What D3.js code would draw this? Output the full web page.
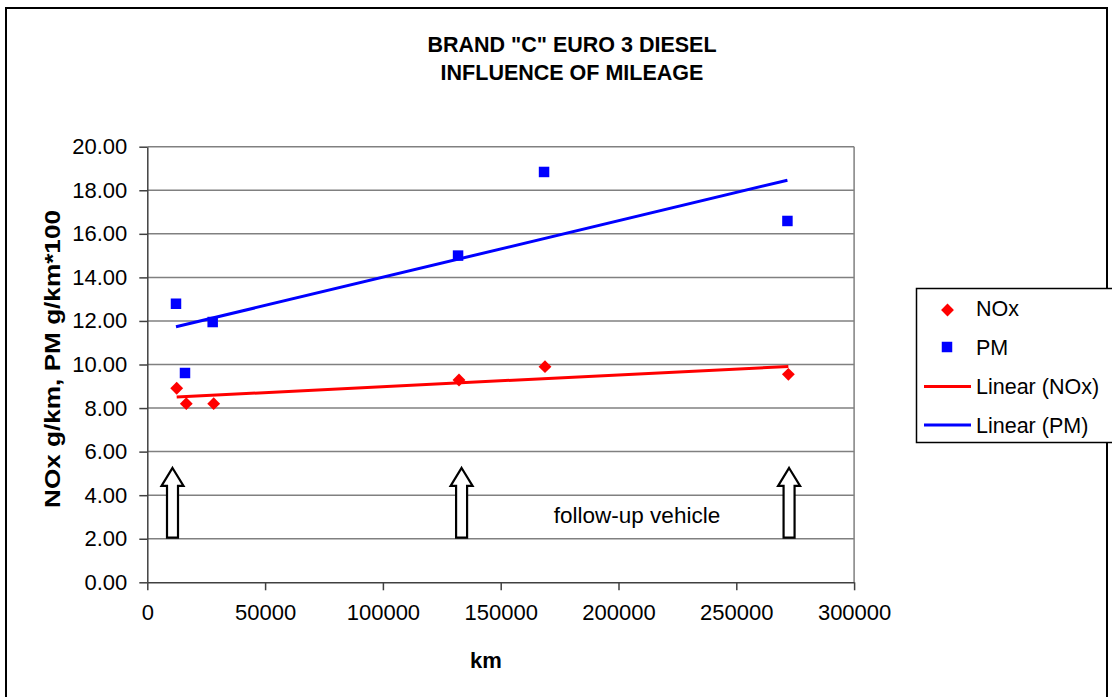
<!DOCTYPE html>
<html>
<head>
<meta charset="utf-8">
<script src="https://cdn.jsdelivr.net/npm/d3@7"></script>
<style>
  body { margin: 0; background: #fff; }
  svg { display: block; }
  text { font-family: "Liberation Sans", Arial, sans-serif; fill: #000; }
  .grid line { stroke: #808080; stroke-width: 1.5; }
  .axis path, .axis line { stroke: #404040; stroke-width: 1.5; }
  .axis text { font-size: 22px; }
</style>
</head>
<body>
<div id="chart"></div>
<script>
// values
const titleLines = ['BRAND "C" EURO 3 DIESEL', "INFLUENCE OF MILEAGE"]
const noxKm = [12480, 16550, 28180, 132300, 168800, 272100]
const noxVal = [8.91, 8.20, 8.20, 9.29, 9.90, 9.55]
const pmKm = [12180, 16000, 27750, 131900, 168400, 271700]
const pmVal = [12.79, 9.61, 11.95, 15.00, 18.84, 16.59]
const yTicks = [0, 2, 4, 6, 8, 10, 12, 14, 16, 18, 20]
const xTicks = [0, 50000, 100000, 150000, 200000, 250000, 300000]
const arrowKm = [10700, 133400, 272400]
const arrowFrom = 2.05, arrowTo = 5.25
const legendNames = ["NOx", "PM", "Linear (NOx)", "Linear (PM)"]

const W = 1112, H = 697
const svg = d3.select("#chart").append("svg").attr("width", W).attr("height", H)

// outer chart frame
svg.append("rect")
    .attr("x", 6).attr("y", 8)
    .attr("width", 1101).attr("height", H)
    .attr("fill", "none").attr("stroke", "#000").attr("stroke-width", 2)

const x = d3.scaleLinear().domain([0, 300000]).range([147.3, 854.1])
const y = d3.scaleLinear().domain([0, 20]).range([582.3, 146.7])

// title
svg.append("text")
    .attr("x", 572).attr("y", 52)
    .attr("text-anchor", "middle")
    .attr("font-weight", "bold").attr("font-size", 21.5)
    .selectAll("tspan").data(titleLines).enter().append("tspan")
    .attr("x", 572).attr("dy", (d, i) => i ? 27.5 : 0)
    .text(d => d)

// gridlines
svg.append("g").attr("class", "grid")
    .selectAll("line").data(yTicks.slice(1)).enter().append("line")
    .attr("x1", x(0)).attr("x2", x(300000))
    .attr("y1", d => y(d)).attr("y2", d => y(d))
svg.append("line")
    .attr("x1", x(300000)).attr("x2", x(300000))
    .attr("y1", y(0)).attr("y2", y(20))
    .attr("stroke", "#808080").attr("stroke-width", 1.5)

// axes
svg.append("g").attr("class", "axis")
    .attr("transform", `translate(${x(0)},0)`)
    .call(d3.axisLeft(y).tickValues(yTicks).tickSize(8).tickSizeOuter(0).tickPadding(12)
        .tickFormat(d3.format(".2f")))
svg.append("g").attr("class", "axis")
    .attr("transform", `translate(0,${y(0)})`)
    .call(d3.axisBottom(x).tickValues(xTicks).tickSize(8).tickSizeOuter(0).tickPadding(14)
        .tickFormat(d3.format("d")))

// axis titles
svg.append("text")
    .attr("transform", "translate(60,359) rotate(-90)")
    .attr("text-anchor", "middle")
    .attr("font-weight", "bold").attr("font-size", 22)
    .attr("textLength", 298).attr("lengthAdjust", "spacingAndGlyphs")
    .text("NOx g/km, PM g/km*100")
svg.append("text")
    .attr("x", 486).attr("y", 668)
    .attr("text-anchor", "middle")
    .attr("font-weight", "bold").attr("font-size", 22)
    .text("km")

// follow-up vehicle arrows
const arrowPath = (cx, yTop, yBot) => {
    const hw = 11, sw = 5.5, hh = 18
    return `M${cx},${yTop} L${cx + hw},${yTop + hh} L${cx + sw},${yTop + hh} L${cx + sw},${yBot}` +
        ` L${cx - sw},${yBot} L${cx - sw},${yTop + hh} L${cx - hw},${yTop + hh} Z`
}
svg.append("g").selectAll("path").data(arrowKm).enter().append("path")
    .attr("d", d => arrowPath(x(d), y(arrowTo), y(arrowFrom)))
    .attr("fill", "#fff").attr("stroke", "#000").attr("stroke-width", 2.2)
    .attr("stroke-linejoin", "miter")

svg.append("text")
    .attr("x", 637).attr("y", 523)
    .attr("text-anchor", "middle").attr("font-size", 22.5)
    .text("follow-up vehicle")

// least-squares trendline over the data range
const trend = (xs, ys) => {
    const mx = d3.mean(xs), my = d3.mean(ys)
    const b = d3.sum(xs, (v, i) => (v - mx) * (ys[i] - my)) / d3.sum(xs, v => (v - mx) ** 2)
    const a = my - b * mx
    const x0 = d3.min(xs), x1 = d3.max(xs)
    return [[x0, a + b * x0], [x1, a + b * x1]]
}
const line = d3.line().x(d => x(d[0])).y(d => y(d[1]))

svg.append("path").datum(trend(pmKm, pmVal))
    .attr("d", line).attr("fill", "none").attr("stroke", "#0000ff").attr("stroke-width", 3)
svg.append("path").datum(trend(noxKm, noxVal))
    .attr("d", line).attr("fill", "none").attr("stroke", "#ff0000").attr("stroke-width", 3)

// markers
const diamond = d3.symbol().type(d3.symbolDiamond2).size(105)
const square = d3.symbol().type(d3.symbolSquare).size(110)

svg.append("g").selectAll("path").data(noxKm).enter().append("path")
    .attr("d", diamond)
    .attr("transform", (d, i) => `translate(${x(d)},${y(noxVal[i])})`)
    .attr("fill", "#ff0000")
svg.append("g").selectAll("path").data(pmKm).enter().append("path")
    .attr("d", square)
    .attr("transform", (d, i) => `translate(${x(d)},${y(pmVal[i])})`)
    .attr("fill", "#0000ff")

// legend
const lg = svg.append("g")
lg.append("rect")
    .attr("x", 916.5).attr("y", 288.5).attr("width", 200).attr("height", 154)
    .attr("fill", "#fff").attr("stroke", "#000").attr("stroke-width", 1.5)
const rowY = [308, 347, 386.5, 425]
lg.append("path").attr("d", diamond).attr("transform", `translate(947.5,${rowY[0] + 2})`).attr("fill", "#ff0000")
lg.append("path").attr("d", square).attr("transform", `translate(947,${rowY[1]})`).attr("fill", "#0000ff")
lg.append("line").attr("x1", 924).attr("x2", 971).attr("y1", rowY[2]).attr("y2", rowY[2])
    .attr("stroke", "#ff0000").attr("stroke-width", 3)
lg.append("line").attr("x1", 924).attr("x2", 971).attr("y1", rowY[3]).attr("y2", rowY[3])
    .attr("stroke", "#0000ff").attr("stroke-width", 3)
lg.selectAll("text.lab").data(legendNames).enter().append("text")
    .attr("class", "lab")
    .attr("x", 976).attr("y", (d, i) => rowY[i] + 7.5)
    .attr("font-size", 21.5)
    .text(d => d)
</script>
</body>
</html>
